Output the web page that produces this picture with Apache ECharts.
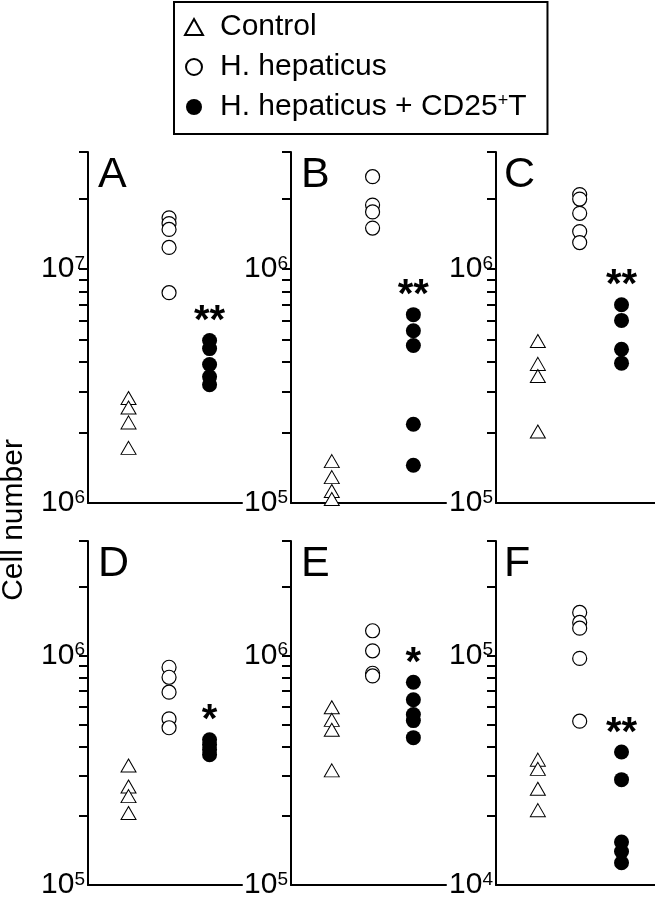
<!DOCTYPE html>
<html>
<head>
<meta charset="utf-8">
<script src="https://cdn.jsdelivr.net/npm/echarts@6/dist/echarts.min.js"></script>
<style>html,body{margin:0;padding:0;background:#fff}#c{width:655px;height:900px}</style>
</head>
<body>
<div id="c"></div>
<script>
const panelLetters = ['A', 'B', 'C', 'D', 'E', 'F'];
const seriesNames = ['Control', 'H. hepaticus', 'H. hepaticus + CD25+T'];
const groupX = [1, 2, 3];
const yMin = [1e6, 1e5, 1e5, 1e5, 1e5, 1e4];
const yMax = [3.1623e7, 3.1623e6, 3.1623e6, 3.1623e6, 3.1623e6, 3.1623e5];
const tickLabelValues = [[1e6, 1e7], [1e5, 1e6], [1e5, 1e6], [1e5, 1e6], [1e5, 1e6], [1e4, 1e5]];
const tickMultipliers = [2, 3, 4, 5, 6, 7, 8, 9, 10, 20, 31.6];
const controlValues = [
  [2.81e6, 2.56e6, 2.21e6, 1.72e6],
  [1.51e5, 1.29e5, 1.125e5, 1.04e5],
  [4.92e5, 3.93e5, 3.49e5, 2.02e5],
  [3.32e5, 2.69e5, 2.44e5, 2.06e5],
  [5.96e5, 5.25e5, 4.75e5, 3.16e5],
  [3.52e4, 3.21e4, 2.63e4, 2.12e4]
];
const hepaticusValues = [
  [1.655e7, 1.564e7, 1.476e7, 1.236e7, 7.92e6],
  [2.48e6, 1.876e6, 1.754e6, 1.496e6],
  [2.08e6, 1.99e6, 1.73e6, 1.445e6, 1.297e6],
  [8.9e5, 8.05e5, 6.93e5, 5.3e5, 4.85e5],
  [1.284e6, 1.05e6, 8.38e5, 8.16e5],
  [1.543e5, 1.396e5, 1.318e5, 9.73e4, 5.18e4]
];
const tregValues = [
  [4.95e6, 4.57e6, 3.91e6, 3.46e6, 3.2e6],
  [6.38e5, 5.45e5, 4.71e5, 2.17e5, 1.45e5],
  [7.03e5, 6.03e5, 4.54e5, 3.96e5],
  [4.3e5, 4.09e5, 3.89e5, 3.70e5],
  [7.66e5, 6.42e5, 5.54e5, 5.21e5, 4.39e5],
  [3.80e4, 2.88e4, 1.54e4, 1.40e4, 1.25e4]
];
const significance = ['**', '**', '**', '*', '*', '**'];

const FONT = '"Liberation Sans", Arial, Helvetica, sans-serif';
const gridLefts = [88, 291, 496];
const gridWidths = [154, 155, 159];
const gridTops = [152, 541];
const gridHeights = [351, 352];

const chart = echarts.init(document.getElementById('c'), null, {renderer: 'canvas'});

const grids = [], xAxes = [], yAxes = [], series = [], titles = [];
for (let i = 0; i < 6; i++) {
  const col = i % 3, row = Math.floor(i / 3);
  grids.push({left: gridLefts[col], top: gridTops[row], width: gridWidths[col], height: gridHeights[row], containLabel: false});
  xAxes.push({
    gridIndex: i, type: 'value', min: 0, max: 3.8,
    axisLine: {show: true, lineStyle: {color: '#000', width: 2}},
    axisTick: {show: false}, axisLabel: {show: false}, splitLine: {show: false}
  });
  const ticks = tickMultipliers.map(m => m * yMin[i]);
  yAxes.push({
    gridIndex: i, type: 'log', logBase: 10, min: yMin[i], max: yMax[i],
    axisLine: {show: true, lineStyle: {color: '#000', width: 2}},
    axisTick: {show: true, length: 9, inside: false, lineStyle: {color: '#000', width: 2}, customValues: ticks},
    minorTick: {show: false},
    splitLine: {show: false},
    axisLabel: {
      show: true, margin: 3, customValues: tickLabelValues[i],
      formatter: v => '{b|10}{s|' + Math.round(Math.log10(v)) + '}',
      rich: {
        b: {fontSize: 30, fontFamily: FONT, color: '#000', lineHeight: 30},
        s: {fontSize: 19, fontFamily: FONT, color: '#000', verticalAlign: 'top', lineHeight: 19}
      }
    }
  });
  series.push({
    name: seriesNames[0], type: 'scatter', xAxisIndex: i, yAxisIndex: i,
    symbol: 'triangle', symbolSize: [15, 13],
    itemStyle: {color: '#fff', borderColor: '#000', borderWidth: 1, opacity: 1},
    data: controlValues[i].map(v => [groupX[0], v])
  });
  series.push({
    name: seriesNames[1], type: 'scatter', xAxisIndex: i, yAxisIndex: i,
    symbol: 'circle', symbolSize: 14,
    itemStyle: {color: '#fff', borderColor: '#000', borderWidth: 1.2, opacity: 1},
    data: hepaticusValues[i].map(v => [groupX[1], v])
  });
  const tv = tregValues[i];
  const topIdx = tv.indexOf(Math.max(...tv));
  series.push({
    name: seriesNames[2], type: 'scatter', xAxisIndex: i, yAxisIndex: i,
    symbol: 'circle', symbolSize: 15,
    itemStyle: {color: '#000', borderColor: '#000', borderWidth: 0, opacity: 1},
    data: tv.map((v, k) => k === topIdx ? {
      value: [groupX[2], v],
      label: {show: true, formatter: significance[i], position: 'top', distance: -9,
        fontSize: 40, fontWeight: 'bold', fontFamily: FONT, color: '#000'}
    } : [groupX[2], v])
  });
  titles.push({
    text: panelLetters[i],
    left: gridLefts[col] + (col === 2 ? 8 : 10),
    top: gridTops[row] + 2,
    padding: 0,
    textStyle: {fontSize: 43, fontWeight: 'normal', fontFamily: FONT, color: '#000'}
  });
}

chart.setOption({
  animation: false,
  backgroundColor: '#fff',
  title: titles,
  grid: grids,
  xAxis: xAxes,
  yAxis: yAxes,
  legend: {
    data: seriesNames,
    orient: 'vertical', left: 174, top: 2,
    padding: [10, 21, 12, 10], itemGap: 10,
    itemWidth: 18, itemHeight: 16,
    borderColor: '#000', borderWidth: 2, selectedMode: false,
    formatter: name => name === seriesNames[2]
      ? '{n|H. hepaticus + CD25}{s|+}{n|T}' : '{n|' + name + '}',
    textStyle: {
      fontSize: 30, fontFamily: FONT, color: '#000', padding: [0, 0, 0, 12],
      rich: {
        n: {fontSize: 30, fontFamily: FONT, color: '#000', lineHeight: 30},
        s: {fontSize: 18, fontFamily: FONT, color: '#000', verticalAlign: 'top', lineHeight: 18}
      }
    }
  },
  graphic: [{
    type: 'text', x: 14, y: 520, rotation: Math.PI / 2,
    style: {text: 'Cell number', fontSize: 30, fontFamily: FONT, fill: '#000', align: 'center', verticalAlign: 'middle'}
  }],
  series: series
});
</script>
</body>
</html>
